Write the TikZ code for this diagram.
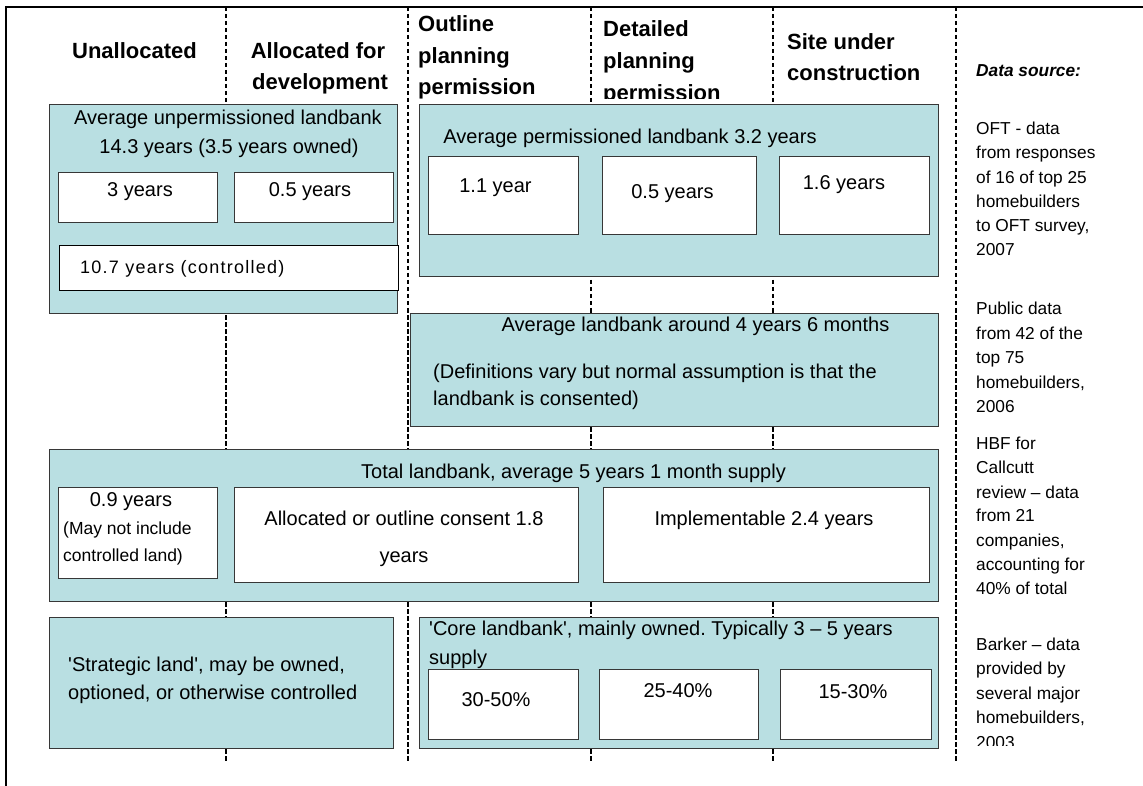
\documentclass[tikz,border=0pt]{standalone}
\usepackage{fontspec}
\setmainfont{Liberation Sans}
\newfontfamily\spacedfont[LetterSpace=7]{Liberation Sans}
\definecolor{boxfill}{RGB}{185,223,226}
\definecolor{boxline}{RGB}{55,55,55}
\frenchspacing
\begin{document}
\begin{tikzpicture}[x=1pt,y=-1pt,
  frame/.style={line width=2.2pt, black},
  sep/.style={line width=1.8pt, black, dash pattern=on 4.5pt off 2.5pt},
  bluebox/.style={draw=boxline, fill=boxfill, line width=1.3pt, inner sep=0pt, anchor=north west},
  whitebox/.style={draw=boxline, fill=white, line width=1.3pt, inner sep=0pt, anchor=north west},
  hdr/.style={font=\bfseries\fontsize{22}{26}\selectfont, inner sep=0pt},
  txt/.style={font=\fontsize{20}{24}\selectfont, inner sep=0pt},
  small/.style={font=\fontsize{17.5}{21}\selectfont, inner sep=0pt},
  src/.style={font=\fontsize{17.3}{21}\selectfont, inner sep=0pt, anchor=base west},
  spaced/.style={font=\spacedfont\fontsize{18}{22}\selectfont, inner sep=0pt}
]
\useasboundingbox (0,0) rectangle (1143,786);

% column separators
\foreach \x [count=\i] in {226,408,591,773,956} {
  \coordinate (dt\i) at (\x,7);
  \coordinate (db\i) at (\x,762);
  \draw[sep] (dt\i) -- (db\i);
}

% frame
\coordinate (ftr) at (1143,7);
\coordinate (ftl) at (6,7);
\coordinate (fbl) at (6,786);
\draw[frame] (ftr) -- (ftl) -- (fbl);

% headers
\node[hdr, anchor=base] (h1) at (134.5,59) {Unallocated};
\node[hdr, anchor=base] (h2a) at (318,59) {Allocated for};
\node[hdr, anchor=base] (h2b) at (320,90) {development};
\node[hdr, anchor=base west] (h3a) at (418,32) {Outline};
\node[hdr, anchor=base west] (h3b) at (418,64) {planning};
\node[hdr, anchor=base west] (h3c) at (418,95) {permission};
\begin{scope}
  \clip (594,0) rectangle (771,98.5);
  \node[hdr, anchor=base west] (h4a) at (603,37) {Detailed};
  \node[hdr, anchor=base west] (h4b) at (603,69) {planning};
  \node[hdr, anchor=base west] (h4c) at (603,101) {permission};
\end{scope}
\node[hdr, anchor=base west] (h5a) at (787,50) {Site under};
\node[hdr, anchor=base west] (h5b) at (787,81) {construction};
\node[font=\bfseries\itshape\fontsize{17.3}{21}\selectfont, inner sep=0pt, anchor=base west] (ds) at (976,77) {Data source:};

% data sources
\node[src] (s1a) at (976,135) {OFT - data};
\node[src] (s1b) at (976,159) {from responses};
\node[src] (s1c) at (976,184) {of 16 of top 25};
\node[src] (s1d) at (976,208) {homebuilders};
\node[src] (s1e) at (976,232) {to OFT survey,};
\node[src] (s1f) at (976,256) {2007};
\node[src] (s2a) at (976,314) {Public data};
\node[src] (s2b) at (976,339) {from 42 of the};
\node[src] (s2c) at (976,363) {top 75};
\node[src] (s2d) at (976,388) {homebuilders,};
\node[src] (s2e) at (976,412) {2006};
\node[src] (s3a) at (976,449) {HBF for};
\node[src] (s3b) at (976,473) {Callcutt};
\node[src] (s3c) at (976,498) {review -- data};
\node[src] (s3d) at (976,521) {from 21};
\node[src] (s3e) at (976,546) {companies,};
\node[src] (s3f) at (976,570) {accounting for};
\node[src] (s3g) at (976,594) {40\% of total};
\begin{scope}
  \clip (960,600) rectangle (1143,745);
  \node[src] (s4a) at (976,650) {Barker -- data};
  \node[src] (s4b) at (976,674) {provided by};
  \node[src] (s4c) at (976,699) {several major};
  \node[src] (s4d) at (976,723) {homebuilders,};
  \node[src] (s4e) at (976,748) {2003};
\end{scope}

% Box A: unpermissioned landbank
\node[bluebox, minimum width=348pt, minimum height=209pt] (A) at (49,104) {};
\node[txt, anchor=base] (At1) at (228,125) {Average unpermissioned landbank};
\node[txt, anchor=base] (At2) at (229,154) {14.3 years (3.5 years owned)};
\node[whitebox, minimum width=159pt, minimum height=50pt] (a1) at (58,172) {};
\node[txt, anchor=base] (a1t) at (140,197) {3 years};
\node[whitebox, minimum width=159pt, minimum height=50pt] (a2) at (234,172) {};
\node[txt, anchor=base] (a2t) at (310,197) {0.5 years};
\node[whitebox, draw=black, minimum width=339pt, minimum height=45pt] (a3) at (59,245) {};
\node[spaced, anchor=base west] (a3t) at (80,274) {10.7 years (controlled)};

% Box B: permissioned landbank
\node[bluebox, minimum width=519pt, minimum height=172pt] (B) at (419,104) {};
\node[txt, anchor=base] (Bt) at (630,144) {Average permissioned landbank 3.2 years};
\node[whitebox, minimum width=150pt, minimum height=78pt] (b1) at (428,156) {};
\node[txt, anchor=base] (b1t) at (495.5,193) {1.1 year};
\node[whitebox, minimum width=154pt, minimum height=78pt] (b2) at (602,156) {};
\node[txt, anchor=base] (b2t) at (672.5,199) {0.5 years};
\node[whitebox, minimum width=150pt, minimum height=78pt] (b3) at (779,156) {};
\node[txt, anchor=base] (b3t) at (844,190) {1.6 years};

% Box C: average landbank
\node[bluebox, minimum width=528pt, minimum height=113pt] (C) at (410,313) {};
\node[txt, anchor=base] (Ct1) at (695.5,331) {Average landbank around 4 years 6 months};
\node[txt, anchor=base west] (Ct2) at (433,378) {(Definitions vary but normal assumption is that the};
\node[txt, anchor=base west] (Ct3) at (433,405) {landbank is consented)};

% Box D: total landbank
\node[bluebox, minimum width=889pt, minimum height=152pt] (D) at (49,449) {};
\node[txt, anchor=base] (Dt) at (573.5,478) {Total landbank, average 5 years 1 month supply};
\node[whitebox, minimum width=159pt, minimum height=91pt] (d1) at (58,487) {};
\node[txt, anchor=base] (d1t1) at (131,506) {0.9 years};
\node[small, anchor=base west] (d1t2) at (63,534) {(May not include};
\node[small, anchor=base west] (d1t3) at (63,561) {controlled land)};
\node[whitebox, minimum width=344pt, minimum height=95pt] (d2) at (234,487) {};
\node[txt, anchor=base] (d2t1) at (404,525) {Allocated or outline consent 1.8};
\node[txt, anchor=base] (d2t2) at (404,562) {years};
\node[whitebox, minimum width=326pt, minimum height=95pt] (d3) at (603,487) {};
\node[txt, anchor=base] (d3t) at (764,525) {Implementable 2.4 years};

% Box E: strategic land
\node[bluebox, minimum width=344pt, minimum height=131pt] (E) at (49,617) {};
\node[txt, anchor=base west] (Et1) at (68,671) {\textquotesingle Strategic land\textquotesingle, may be owned,};
\node[txt, anchor=base west] (Et2) at (68,699) {optioned, or otherwise controlled};

% Box F: core landbank
\node[bluebox, minimum width=519pt, minimum height=131pt] (F) at (419,617) {};
\node[txt, anchor=base west] (Ft1) at (429,635) {\textquotesingle Core landbank\textquotesingle, mainly owned. Typically 3 -- 5 years};
\node[txt, anchor=base west] (Ft2) at (429,664) {supply};
\node[whitebox, minimum width=150pt, minimum height=70pt] (f1) at (428,669) {};
\node[txt, anchor=base] (f1t) at (496,706) {30-50\%};
\node[whitebox, minimum width=159pt, minimum height=70pt] (f2) at (599,669) {};
\node[txt, anchor=base] (f2t) at (678,697) {25-40\%};
\node[whitebox, minimum width=151pt, minimum height=70pt] (f3) at (780,669) {};
\node[txt, anchor=base] (f3t) at (853,698) {15-30\%};
\end{tikzpicture}
\end{document}
